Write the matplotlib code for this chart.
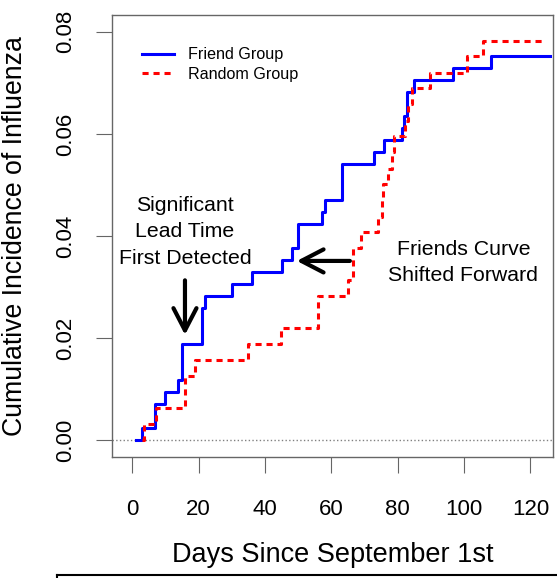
import matplotlib
matplotlib.use("Agg")
from matplotlib import pyplot as plt
from matplotlib.lines import Line2D
import numpy as np

plt.rcParams["font.family"] = ["Liberation Sans", "DejaVu Sans"]

# Kaplan-Meier style cumulative incidence, step after each day
friend_days = [1, 2.9, 6.9, 9.9, 13.9, 14.9, 20.9, 21.9, 30.2, 36.2, 45.1, 48.1,
               50.1, 57.1, 58.1, 63.1, 72.9, 76.0, 81.2, 82.0, 82.7, 84.9, 96.8,
               108.0, 126.0]
friend_inc = [0.0, 0.0023, 0.0070, 0.0094, 0.0117, 0.0188, 0.0258, 0.0282, 0.0305,
              0.0329, 0.0353, 0.0376, 0.0423, 0.0446, 0.0470, 0.0541, 0.0564,
              0.0588, 0.0611, 0.0635, 0.0682, 0.0705, 0.0729, 0.0752, 0.0752]

random_days = [3.0, 3.7, 7.2, 15.9, 18.9, 35.0, 44.9, 56.0, 65.0, 66.6, 69.0, 74.1,
               75.2, 75.7, 77.2, 78.3, 78.8, 82.3, 83.2, 84.3, 89.8, 100.8, 105.8,
               124.4]
random_inc = [0.0, 0.0031, 0.0063, 0.0125, 0.0157, 0.0188, 0.0219, 0.0282, 0.0313,
              0.0376, 0.0407, 0.0438, 0.0470, 0.0501, 0.0532, 0.0564, 0.0595,
              0.0626, 0.0658, 0.0689, 0.0720, 0.0752, 0.0783, 0.0783]

x_ticks = [0, 20, 40, 60, 80, 100, 120]
y_ticks = [0.00, 0.02, 0.04, 0.06, 0.08]

fig = plt.figure(figsize=(5.57, 5.78), dpi=100)
ax = fig.add_axes([0.2016, 0.2099, 0.7918, 0.7641])

ax.axhline(0, color="gray", ls=":", lw=1)
ax.step(friend_days, friend_inc, where="post", color="blue", lw=2.2,
        label="Friend Group")
ax.step(random_days, random_inc, where="post", color="red", lw=2.2,
        ls=(0, (2.0, 1.6)), label="Random Group")

ax.set_xlim(-6.0, 126.9)
ax.set_ylim(-0.00327, 0.0833)
ax.set_xticks(x_ticks)
ax.set_yticks(y_ticks)
ax.set_yticklabels(["%.2f" % v for v in y_ticks])

for s in ax.spines.values():
    s.set_color("#666666")
    s.set_linewidth(1)
ax.tick_params(direction="out", length=11.5, width=0.8, color="#666666",
               labelsize=16)
ax.tick_params(axis="x", pad=19)
ax.tick_params(axis="y", pad=14.5, labelrotation=90)
for lab in ax.get_yticklabels():
    lab.set_va("center")

ax.set_xlabel("Days Since September 1st", fontsize=19.5)
ax.set_ylabel("Cumulative Incidence of Influenza", fontsize=19.2)
ax.xaxis.label.set_va("center")
ax.yaxis.label.set_va("center")
ax.xaxis.set_label_coords(0.5, -0.2226)
ax.yaxis.set_label_coords(-0.2206, 0.5)

ax.legend(loc="upper left", bbox_to_anchor=(0.067, 0.927), frameon=False,
          fontsize=11.6, handlelength=2.0, handletextpad=0.85, borderpad=0,
          borderaxespad=0, labelspacing=0.3)

ax.text(15.9, 0.0408, "Significant\nLead Time\nFirst Detected", fontsize=15.3,
        ha="center", va="center", linespacing=1.5)
ax.text(99.8, 0.0348, "Friends Curve\nShifted Forward", fontsize=15.3,
        ha="center", va="center", linespacing=1.45)

arrow = dict(arrowstyle="->,head_length=1.6,head_width=0.83", lw=3,
             color="black", shrinkA=0, shrinkB=0, mutation_scale=10)
ax.annotate("", xy=(15.9, 0.0206), xytext=(15.9, 0.0313), arrowprops=arrow)
ax.annotate("", xy=(49.6, 0.0351), xytext=(65.6, 0.0351), arrowprops=arrow)

# corner of the caption frame underneath
fig.add_artist(Line2D([57 / 557, 1], [1 - 575 / 578] * 2, color="black", lw=1.5,
                      transform=fig.transFigure))
fig.add_artist(Line2D([57 / 557] * 2, [1 - 575 / 578, 0], color="black", lw=1.5,
                      transform=fig.transFigure))

fig.savefig("out.png", dpi=100)
